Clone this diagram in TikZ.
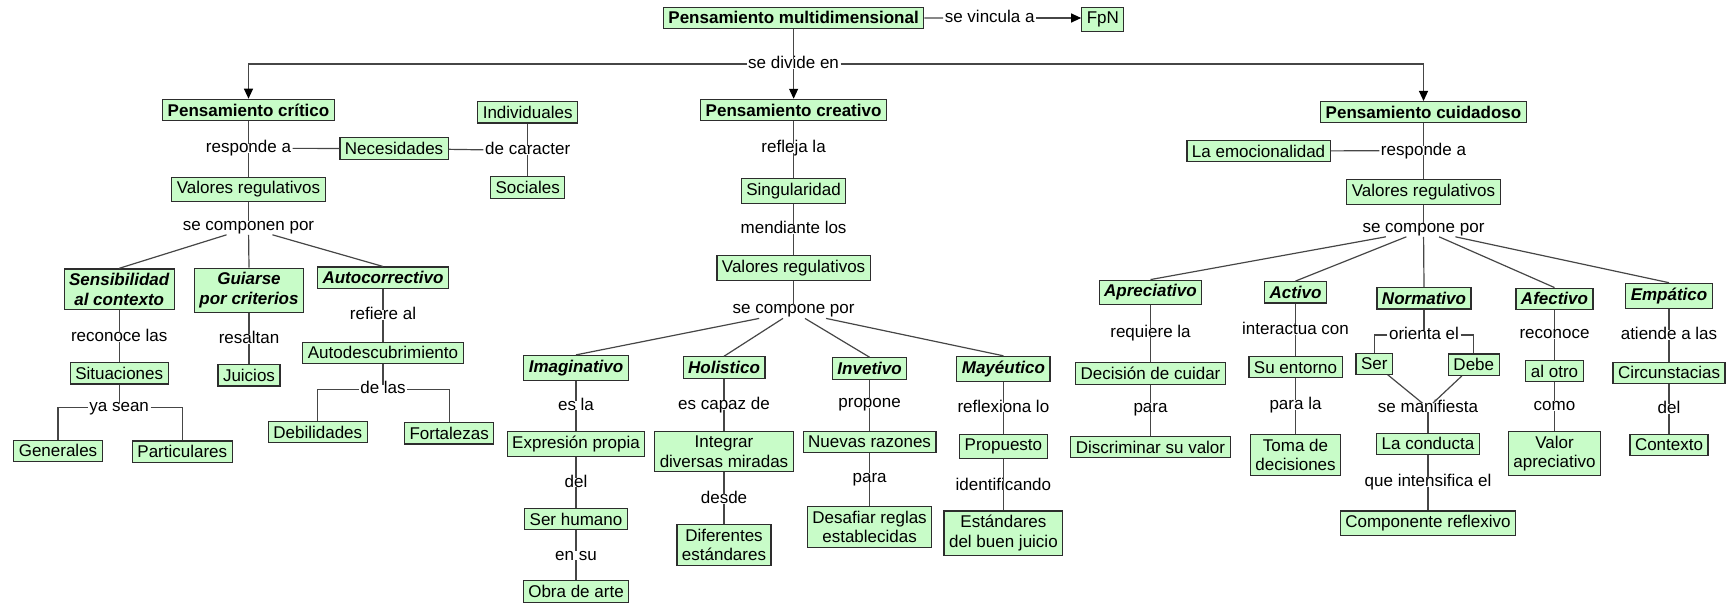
\documentclass[tikz,border=0pt]{standalone}
\usepackage{fontspec}
\setmainfont{Liberation Sans}
\usetikzlibrary{arrows.meta}
\definecolor{boxfill}{RGB}{200,252,200}
\definecolor{boxline}{RGB}{45,45,45}
\definecolor{linkline}{RGB}{70,70,70}
\newcommand{\mapfont}{\fontsize{17pt}{19.5pt}\selectfont}
\begin{document}
\begin{tikzpicture}[x=1pt,y=-1pt,
  box/.style={draw=boxline, fill=boxfill, line width=1.2pt, inner xsep=5pt, inner ysep=4.4pt, font=\mapfont, align=center},
  head/.style={box, font=\mapfont\bfseries},
  sub/.style={box, font=\mapfont\bfseries\itshape},
  lab/.style={font=\mapfont, inner xsep=1.5pt, inner ysep=0pt, text height=8.8pt, text depth=0pt, anchor=base, yshift=-4.4pt},
  fanlab/.style={lab, text depth=4.5pt},
  link/.style={draw=linkline, line width=1.2pt},
  arr/.style={link, -{Triangle[width=9pt,length=10pt,color=black]}}]
\useasboundingbox (0,0) rectangle (1734,603);

% ---------- root ----------
\node[head] (pm)   at (793.6,17.8)  {Pensamiento multidimensional};
\node[lab]  (lvinc) at (989.7,18)   {se vincula a};
\node[box]  (fpn)  at (1102.8,19.7) {FpN};
\node[lab]  (ldiv) at (793.6,64)    {se divide en};
\node[head] (pcr)  at (248.5,110)   {Pensamiento crítico};
\node[head] (pcre) at (793.6,110)   {Pensamiento creativo};
\node[head] (pcu)  at (1423.5,112.2) {Pensamiento cuidadoso};

\draw[link] (pm) -- (lvinc);
\draw[arr] (lvinc.east) -- (lvinc.east -| fpn.west);
\draw[link] (pm) -- (ldiv);
\draw[arr] (ldiv) -- (pcre);
\draw[arr] (ldiv.west) -| (pcr.north);
\draw[arr] (ldiv.east) -| (pcu.north);

% ---------- pensamiento crítico ----------
\node[lab]    (lresp1) at (248.5,148.3) {responde a};
\node[box]    (nec)    at (394.1,148.5) {Necesidades};
\node[lab]    (lcar)   at (527.7,150.5) {de caracter};
\node[box]    (ind)    at (527.7,112.3) {Individuales};
\node[box]    (soc)    at (527.7,187.5) {Sociales};
\node[box]    (vr1)    at (248.5,189.5) {Valores regulativos};
\node[fanlab] (lcomp1) at (248.5,225.7) {se componen por};
\node[sub]    (sens)   at (119.2,289.3) {Sensibilidad\\al contexto};
\node[sub]    (guia)   at (249,290.2)   {Guiarse\\por criterios};
\node[sub]    (autoc)  at (383,277.7)   {Autocorrectivo};
\node[lab]    (lrec)   at (119.2,337.3) {reconoce las};
\node[box]    (sit)    at (119.2,373.3) {Situaciones};
\node[lab]    (lya)    at (119.2,407.3) {ya sean};
\node[box]    (gen)    at (58,450.8)    {Generales};
\node[box]    (par)    at (182.3,451.7) {Particulares};
\node[lab]    (lres)   at (249,339)     {resaltan};
\node[box]    (jui)    at (249,375.3)   {Juicios};
\node[lab]    (lref)   at (383,315)     {refiere al};
\node[box]    (autod)  at (383,352.8)   {Autodescubrimiento};
\node[lab]    (llas)   at (383,389.3)   {de las};
\node[box]    (deb)    at (317.8,432.2) {Debilidades};
\node[box]    (fort)   at (449.2,433.3) {Fortalezas};

\draw[link] (pcr) -- (lresp1) -- (vr1);
\draw[link] (lresp1) -- (nec) -- (lcar);
\draw[link] (ind) -- (lcar) -- (soc);
\draw[link] (vr1) -- (lcomp1);
\draw[link] (lcomp1) -- (sens.north);
\draw[link] (lcomp1) -- (guia.north);
\draw[link] (lcomp1) -- (autoc.north);
\draw[link] (sens) -- (lrec) -- (sit) -- (lya);
\draw[link] (lya.west) -| (gen.north);
\draw[link] (lya.east) -| (par.north);
\draw[link] (guia) -- (lres) -- (jui);
\draw[link] (autoc) -- (lref) -- (autod) -- (llas);
\draw[link] (llas.west) -| (deb.north);
\draw[link] (llas.east) -| (fort.north);

% ---------- pensamiento creativo ----------
\node[lab]    (lrefl)  at (793.6,148.3) {refleja la};
\node[box]    (sing)   at (793.6,190.8) {Singularidad};
\node[lab]    (lmed)   at (793.6,229.3) {mendiante los};
\node[box]    (vr2)    at (793.6,267.8) {Valores regulativos};
\node[fanlab] (lcomp2) at (793.6,309.3) {se compone por};
\node[sub]    (imag)   at (576,367.8)   {Imaginativo};
\node[sub]    (hol)    at (724,367.5)   {Holistico};
\node[sub]    (inv)    at (869.6,368.5) {Invetivo};
\node[sub]    (may)    at (1003.4,368.8) {Mayéutico};
\node[lab]    (lesla)  at (576,405.7)   {es la};
\node[box]    (expr)   at (576,444.2)   {Expresión propia};
\node[lab]    (ldel1)  at (576,482.7)   {del};
\node[box]    (serh)   at (576,519.2)   {Ser humano};
\node[lab]    (lensu)  at (576,555.7)   {en su};
\node[box]    (obra)   at (576,591.5)   {Obra de arte};
\node[lab]    (lcap)   at (724,405)     {es capaz de};
\node[box]    (integ)  at (724,451.7)   {Integrar\\diversas miradas};
\node[lab]    (ldesde) at (724,499.3)   {desde};
\node[box]    (dif)    at (724,544.7)   {Diferentes\\estándares};
\node[lab]    (lprop)  at (869.6,403.3) {propone};
\node[box]    (nuev)   at (869.6,441.8) {Nuevas razones};
\node[lab]    (lpara1) at (869.6,477.7) {para};
\node[box]    (desaf)  at (869.6,526.7) {Desafiar reglas\\establecidas};
\node[lab]    (lrefx)  at (1003.4,407.7) {reflexiona lo};
\node[box]    (propu)  at (1003.4,446.3) {Propuesto};
\node[lab]    (lident) at (1003.4,485.7) {identificando};
\node[box]    (estb)   at (1003.4,533.2) {Estándares\\del buen juicio};

\draw[link] (pcre) -- (lrefl) -- (sing) -- (lmed) -- (vr2) -- (lcomp2);
\draw[link] (lcomp2) -- (imag.north);
\draw[link] (lcomp2) -- (hol.north);
\draw[link] (lcomp2) -- (inv.north);
\draw[link] (lcomp2) -- (may.north);
\draw[link] (imag) -- (lesla) -- (expr) -- (ldel1) -- (serh) -- (lensu) -- (obra);
\draw[link] (hol) -- (lcap) -- (integ) -- (ldesde) -- (dif);
\draw[link] (inv) -- (lprop) -- (nuev) -- (lpara1) -- (desaf);
\draw[link] (may) -- (lrefx) -- (propu) -- (lident) -- (estb);

% ---------- pensamiento cuidadoso ----------
\node[lab]    (lresp2) at (1423.5,150.7) {responde a};
\node[box]    (emo)    at (1258.6,151)   {La emocionalidad};
\node[box]    (vr3)    at (1423.5,192)   {Valores regulativos};
\node[fanlab] (lcomp3) at (1423.5,227.7) {se compone por};
\node[sub]    (apre)   at (1150.5,292.5) {Apreciativo};
\node[sub]    (act)    at (1295.5,292.3) {Activo};
\node[sub]    (norm)   at (1424,298.3)   {Normativo};
\node[sub]    (afec)   at (1554.5,298.8) {Afectivo};
\node[sub]    (emp)    at (1669,295.7)   {Empático};
\node[lab]    (lreq)   at (1150.5,332.7) {requiere la};
\node[box]    (dec)    at (1150.5,373.5) {Decisión de cuidar};
\node[lab]    (lpara2) at (1150.5,407.7) {para};
\node[box]    (disc)   at (1150.5,447)   {Discriminar su valor};
\node[lab]    (linter) at (1295.5,330)   {interactua con};
\node[box]    (suent)  at (1295.5,367.2) {Su entorno};
\node[lab]    (lparala) at (1295.5,405)  {para la};
\node[box]    (toma)   at (1295.5,454.7) {Toma de\\decisiones};
\node[lab]    (lori)   at (1424,335)     {orienta el};
\node[box]    (ser)    at (1374.3,363.8) {Ser};
\node[box]    (debe)   at (1473.8,364.7) {Debe};
\node[lab]    (lman)   at (1428,407.7)   {se manifiesta};
\node[box]    (cond)   at (1428,443.8)   {La conducta};
\node[lab]    (lint)   at (1428,482.3)   {que intensifica el};
\node[box]    (compr)  at (1428,523.3)   {Componente reflexivo};
\node[lab]    (lrecon) at (1554.5,334)   {reconoce};
\node[box]    (otro)   at (1554.5,371.2) {al otro};
\node[lab]    (lcomo)  at (1554.5,406)   {como};
\node[box]    (valor)  at (1554.5,453.7) {Valor\\apreciativo};
\node[lab]    (latien) at (1669,335)     {atiende a las};
\node[box]    (circ)   at (1669,372.8)   {Circunstacias};
\node[lab]    (ldel2)  at (1669,409)     {del};
\node[box]    (ctx)    at (1669,445)     {Contexto};

\draw[link] (pcu) -- (lresp2) -- (vr3) -- (lcomp3);
\draw[link] (emo) -- (lresp2);
\draw[link] (lcomp3) -- (apre.north);
\draw[link] (lcomp3) -- (act.north);
\draw[link] (lcomp3) -- (norm.north);
\draw[link] (lcomp3) -- (afec.north);
\draw[link] (lcomp3) -- (emp.north);
\draw[link] (apre) -- (lreq) -- (dec) -- (lpara2) -- (disc);
\draw[link] (act) -- (linter) -- (suent) -- (lparala) -- (toma);
\draw[link] (norm) -- (lori);
\draw[link] (lori.west) -| (ser.north);
\draw[link] (lori.east) -| (debe.north);
\draw[link] (ser) -- (lman);
\draw[link] (debe) -- (lman);
\draw[link] (lman) -- (cond) -- (lint) -- (compr);
\draw[link] (afec) -- (lrecon) -- (otro) -- (lcomo) -- (valor);
\draw[link] (emp) -- (latien) -- (circ) -- (ldel2) -- (ctx);
\end{tikzpicture}
\end{document}
